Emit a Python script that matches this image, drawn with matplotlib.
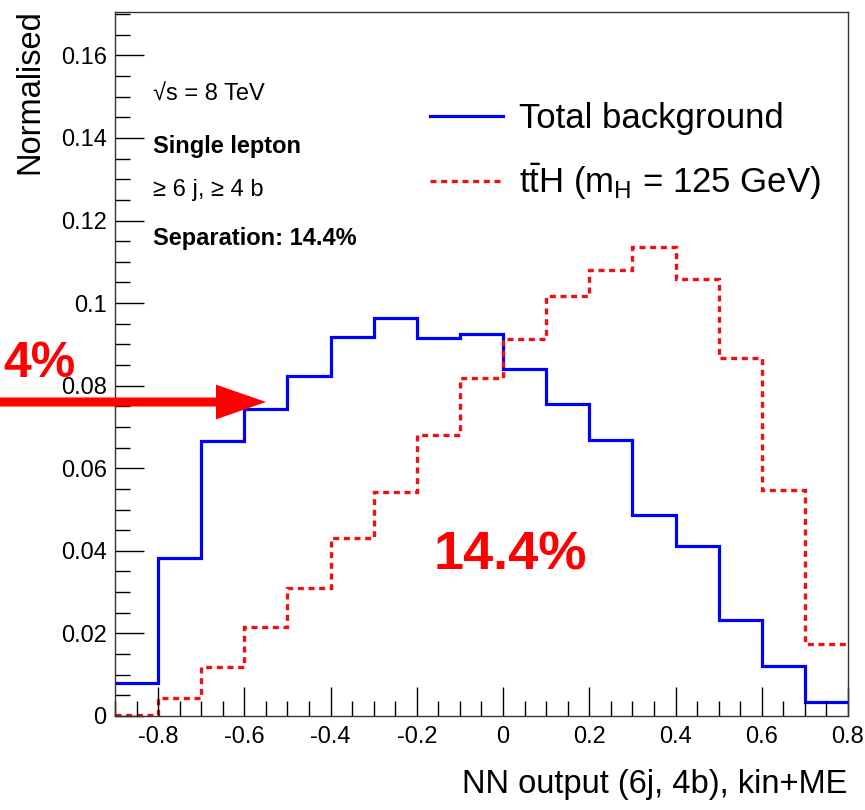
import numpy as np
import matplotlib
matplotlib.use("Agg")
from matplotlib import pyplot as plt
from matplotlib.ticker import MultipleLocator

plt.rcParams['font.family'] = ['Liberation Sans', 'DejaVu Sans']

# bin edges of the NN output
edges = np.round(np.arange(-0.9, 0.81, 0.1), 2)

# normalised shapes
background = [0.0080, 0.0383, 0.0667, 0.0744, 0.0824, 0.0919, 0.0965, 0.0916, 0.0924,
              0.0840, 0.0756, 0.0669, 0.0487, 0.0412, 0.0233, 0.0121, 0.0034]
tth = [0.0003, 0.0044, 0.0119, 0.0216, 0.0310, 0.0431, 0.0543, 0.0681, 0.0819,
       0.0914, 0.1018, 0.1081, 0.1137, 0.1059, 0.0868, 0.0548, 0.0175]

W, H = 865, 810
fig = plt.figure(figsize=(W/100, H/100), dpi=100)
ax = fig.add_axes([115/W, 1-716/H, (848-115)/W, (716-12)/H])

ax.stairs(background, edges, baseline=None, color='#0000ff', lw=2.3,
          label='Total background')
ax.stairs(tth, edges, baseline=None, color='#ee1111', lw=2.4,
          linestyle=(0, (1.8, 1.4)),
          label=r't$\mathregular{\bar{t}}$H (m$_\mathregular{H}$ = 125 GeV)')

ax.set_xlim(-0.9, 0.8)
ax.set_ylim(0, 0.1705)
ax.xaxis.set_major_locator(MultipleLocator(0.2))
ax.xaxis.set_minor_locator(MultipleLocator(0.05))
ax.yaxis.set_major_locator(MultipleLocator(0.02))
ax.yaxis.set_minor_locator(MultipleLocator(0.005))
ax.tick_params(which='both', direction='in', top=False, right=False, labelsize=17)
ax.tick_params(which='major', length=21, width=1)
ax.tick_params(which='minor', length=11, width=1)
ax.tick_params(axis='x', pad=7)
ax.tick_params(axis='y', pad=6)
ax.xaxis.set_major_formatter(matplotlib.ticker.FuncFormatter(lambda v, p: '%g' % round(v, 2)))
ax.yaxis.set_major_formatter(matplotlib.ticker.FuncFormatter(lambda v, p: '%g' % round(v, 3)))
for s in ax.spines.values():
    s.set_linewidth(1.0)
    s.set_color('#333333')

fig.text(30/W, 1-9/H, 'Normalised', rotation=90, ha='center', va='top', fontsize=23.5)
fig.text(847/W, 1-785/H, 'NN output (6j, 4b), kin+ME', ha='right', va='center', fontsize=23.5)

ax.legend(loc='upper left', bbox_to_anchor=(430/W, 1-102/H), bbox_transform=fig.transFigure,
          frameon=False, fontsize=25, borderpad=0, borderaxespad=0,
          handlelength=2.1, handletextpad=0.45, labelspacing=0.75)

fig.text(153/W, 1-95/H, '√s = 8 TeV', fontsize=17, va='center')
fig.text(153/W, 1-146/H, 'Single lepton', fontsize=17, fontweight='bold', va='center')
fig.text(153/W, 1-190/H, '≥ 6 j, ≥ 4 b', fontsize=17, va='center')
fig.text(153/W, 1-238/H, 'Separation: 14.4%', fontsize=17, fontweight='bold', va='center')

fig.text(510/W, 1-555/H, '14.4%', fontsize=39, fontweight='bold', color='red',
         ha='center', va='center')
fig.text(75/W, 1-364/H, '4%', fontsize=36, fontweight='bold', color='red',
         ha='right', va='center')
ax.annotate('', xy=(266/W, 1-402/H), xytext=(-5/W, 1-402/H), xycoords='figure fraction',
            textcoords='figure fraction', annotation_clip=False,
            arrowprops=dict(arrowstyle='simple,head_length=3.6,head_width=2.5,tail_width=0.65',
                            color='red', lw=0, shrinkA=0, shrinkB=0))

fig.savefig('out.png', dpi=100)
